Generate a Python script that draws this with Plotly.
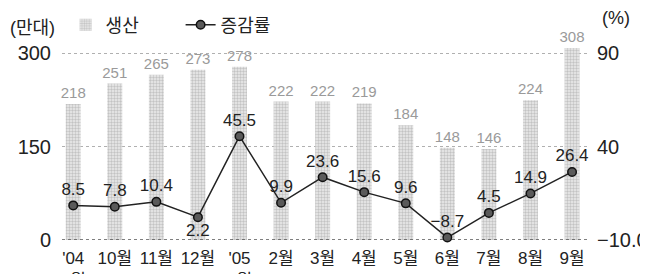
import plotly.graph_objects as go

months = ["'04<br>9월", "10월", "11월", "12월", "'05<br>1월", "2월", "3월",
          "4월", "5월", "6월", "7월", "8월", "9월"]
production = [218, 251, 265, 273, 278, 222, 222, 219, 184, 148, 146, 224, 308]
change_rate = [8.5, 7.8, 10.4, 2.2, 45.5, 9.9, 23.6, 15.6, 9.6, -8.7, 4.5, 14.9, 26.4]
left_ticks = [0, 150, 300]
right_ticks = [-10, 40, 90]
right_ticktext = ["\u221210.0", "40", "90"]

FONT = "Liberation Sans, Arial, Noto Sans CJK KR, sans-serif"
pos = list(range(len(months)))

def fmt(v):
    s = f"{abs(v):.1f}"
    return ("\u2212" + s) if v < 0 else s

line_text_pos = ["top center"] * len(change_rate)
line_text_pos[3] = "bottom center"

fig = go.Figure()
fig.add_trace(go.Bar(
    x=pos, y=production, name="생산",
    width=0.36,
    marker=dict(color="#dcdcdc", line=dict(width=0),
                pattern=dict(shape=".", fgcolor="#9a9a9a", bgcolor="#ececec",
                             size=3, solidity=0.5)),
    text=[str(v) for v in production], textposition="outside",
    constraintext="none",
    textfont=dict(size=15, color="#9a9a9a", family=FONT),
    cliponaxis=False, yaxis="y",
))
fig.add_trace(go.Scatter(
    x=pos, y=change_rate, name="증감률", mode="lines+markers+text",
    line=dict(color="#222", width=1.5),
    marker=dict(size=8.5, color="#5a5a5a", line=dict(color="#111", width=1.5)),
    text=[fmt(v) for v in change_rate], textposition=line_text_pos,
    textfont=dict(size=17, color="#222", family=FONT),
    cliponaxis=False, yaxis="y2",
))

# page body has an 8px default margin: the figure is 640x266 placed at (8, 8)
fig.update_layout(
    width=640, height=266,
    margin=dict(l=54, r=61, t=32, b=34, autoexpand=False),
    paper_bgcolor="white", plot_bgcolor="white",
    font=dict(family=FONT, color="#222"),
    showlegend=True,
    legend=dict(orientation="h", xref="container", yref="container",
                x=0.09, y=0.936, xanchor="left", yanchor="middle",
                font=dict(size=18, color="#222", family=FONT),
                bgcolor="rgba(0,0,0,0)", itemwidth=30, entrywidth=70),
    xaxis=dict(tickvals=pos, ticktext=months, range=[-0.27, 12.36],
               showgrid=False, zeroline=False, showline=False, ticks="",
               automargin=False, ticklabelstandoff=6,
               tickfont=dict(size=17, color="#222", family=FONT)),
    yaxis=dict(range=[0, 300 * 200 / 187], tickvals=left_ticks,
               showgrid=True, gridcolor="#b0b0b0", griddash="dot", gridwidth=1,
               zeroline=False, showline=False, ticks="", automargin=False,
               ticklabelstandoff=10,
               tickfont=dict(size=20, color="#222", family=FONT)),
    yaxis2=dict(range=[-10, -10 + 100 * 200 / 187], tickvals=right_ticks,
                ticktext=right_ticktext, overlaying="y", side="right",
                showgrid=False, zeroline=False, showline=False, ticks="",
                automargin=False, ticklabelstandoff=9,
                tickfont=dict(size=20, color="#222", family=FONT)),
    shapes=[dict(type="line", xref="paper", x0=0, x1=1, yref="y", y0=0, y1=0,
                 line=dict(color="#555", width=1.5, dash="dot"), layer="above")],
    annotations=[
        dict(text="(만대)", xref="paper", yref="paper", x=-0.102, y=1.06,
             xanchor="left", yanchor="middle", showarrow=False,
             font=dict(size=18, color="#222", family=FONT)),
        dict(text="(%)", xref="paper", yref="paper", x=1.024, y=1.11,
             xanchor="left", yanchor="middle", showarrow=False,
             font=dict(size=18, color="#222", family=FONT)),
    ],
)

fig.write_html("out.html")
